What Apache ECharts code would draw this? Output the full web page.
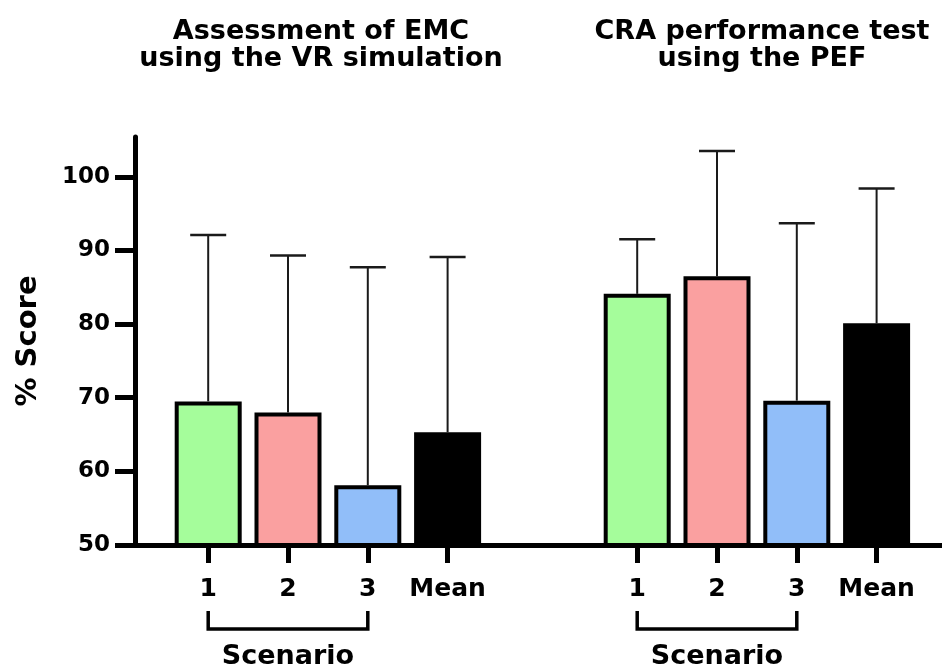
<!DOCTYPE html>
<html><head><meta charset="utf-8">
<script src="https://cdn.jsdelivr.net/npm/echarts@6/dist/echarts.min.js"></script>
<style>html,body{margin:0;padding:0;background:#fff}#c{width:942px;height:670px}</style>
</head><body><div id="c"></div>
<script>
// ---- data ----
const groupTitles = ['Assessment of EMC\nusing the VR simulation', 'CRA performance test\nusing the PEF'];
const categories = ['1', '2', '3', 'Mean'];
const bracketLabel = 'Scenario';
const vrMeans = [69.5, 68.0, 58.1, 65.3];
const vrSD = [22.6, 21.3, 29.6, 23.8];
const pefMeans = [84.1, 86.5, 69.6, 80.1];
const pefSD = [7.4, 17.0, 24.1, 18.3];
const yTicks = [50, 60, 70, 80, 90, 100];
const yName = '% Score';

// ---- style / layout ----
const barColors = ['#a5fd9b', '#faa0a0', '#91bef9', '#000000'];
const W = 942;
const AXIS_LEFT = 135, AXIS_TOP = 137, AXIS_BOTTOM = 545;
const Y_MIN = 50, Y_MAX = 105.4;
const SLOT = 79.8, FIRST_CENTER = 208.2, SECOND_GROUP_CENTER = 637.2;
const TITLE_CENTERS = [321, 762];
const FONT = 'DejaVu Sans';

const xMin = -(FIRST_CENTER - AXIS_LEFT) / SLOT;
const xMax = xMin + (W - AXIS_LEFT) / SLOT;
const groupOffset = (SECOND_GROUP_CENTER - FIRST_CENTER) / SLOT;

const groups = [{ means: vrMeans, sd: vrSD }, { means: pefMeans, sd: pefSD }];
const positions = groups.map((g, gi) => categories.map((c, i) => gi * groupOffset + i));
const allPositions = positions.flat();
const labelFor = v => {
  for (let gi = 0; gi < positions.length; gi++)
    for (let i = 0; i < positions[gi].length; i++)
      if (Math.abs(positions[gi][i] - v) < 1e-6) return categories[i];
  return '';
};

const barData = [], errData = [], bracketData = [];
groups.forEach((g, gi) => {
  g.means.forEach((m, i) => {
    barData.push({ value: [positions[gi][i], m], itemStyle: { color: barColors[i] } });
    errData.push([positions[gi][i], m, g.sd[i]]);
  });
  bracketData.push([positions[gi][0], Y_MIN, positions[gi][2]]);
});

const chart = echarts.init(document.getElementById('c'), null, { renderer: 'canvas' });
chart.setOption({
  animation: false,
  backgroundColor: '#fff',
  graphic: groupTitles.map((t, i) => ({
    type: 'text', x: TITLE_CENTERS[i], y: 18,
    style: { text: t, align: 'center', verticalAlign: 'top', fill: '#000',
      fontFamily: FONT, fontWeight: 'bold', fontSize: 27, lineHeight: 27 }
  })),
  grid: { left: AXIS_LEFT, right: 0, top: AXIS_TOP, bottom: 670 - AXIS_BOTTOM, containLabel: false, outerBoundsMode: 'none' },
  xAxis: {
    type: 'value', min: xMin, max: xMax,
    axisLine: { show: true, onZero: false, lineStyle: { color: '#000', width: 5 } },
    axisTick: { show: true, customValues: allPositions, length: 18, lineStyle: { color: '#000', width: 5 } },
    axisLabel: { customValues: allPositions, formatter: v => labelFor(v), margin: 32,
      fontFamily: FONT, fontWeight: 'bold', fontSize: 25, color: '#000' },
    splitLine: { show: false }
  },
  yAxis: {
    type: 'value', min: Y_MIN, max: Y_MAX,
    axisLine: { show: true, onZero: false, lineStyle: { color: '#000', width: 5 } },
    axisTick: { show: true, customValues: yTicks, length: 20, lineStyle: { color: '#000', width: 5 } },
    axisLabel: { customValues: yTicks, margin: 25, fontFamily: FONT, fontWeight: 'bold', fontSize: 23, color: '#000' },
    splitLine: { show: false },
    name: yName, nameLocation: 'middle', nameRotate: 90, nameGap: 92,
    nameTextStyle: { fontFamily: FONT, fontWeight: 'bold', fontSize: 29, color: '#000' }
  },
  series: [
    {
      type: 'bar', data: barData, barWidth: 67, z: 2,
      itemStyle: { borderColor: '#000', borderWidth: 4 }
    },
    {
      type: 'custom', data: errData, z: 3, encode: { x: 0, y: 1 },
      renderItem: (params, api) => {
        const x = api.value(0), m = api.value(1), sd = api.value(2);
        const p0 = api.coord([x, m]), p1 = api.coord([x, m + sd]);
        return { type: 'group', children: [
          { type: 'line', shape: { x1: p0[0], y1: p0[1], x2: p1[0], y2: p1[1] }, style: { stroke: '#1a1a1a', lineWidth: 2 } },
          { type: 'line', shape: { x1: p1[0] - 18, y1: p1[1], x2: p1[0] + 18, y2: p1[1] }, style: { stroke: '#1a1a1a', lineWidth: 2.5 } }
        ] };
      }
    },
    {
      type: 'custom', data: bracketData, clip: false, encode: { x: [0, 2], y: 1 },
      renderItem: (params, api) => {
        const a = api.coord([api.value(0), api.value(1)]);
        const b = api.coord([api.value(2), api.value(1)]);
        const y0 = a[1] + 66, y1 = a[1] + 84;
        return { type: 'group', children: [
          { type: 'polyline', shape: { points: [[a[0], y0], [a[0], y1], [b[0], y1], [b[0], y0]] },
            style: { stroke: '#000', lineWidth: 3.5, fill: null } },
          { type: 'text', style: { text: bracketLabel, x: (a[0] + b[0]) / 2, y: a[1] + 112,
            align: 'center', verticalAlign: 'middle', fill: '#000',
            fontFamily: FONT, fontWeight: 'bold', fontSize: 27 } }
        ] };
      }
    }
  ]
});
</script>
</body></html>
